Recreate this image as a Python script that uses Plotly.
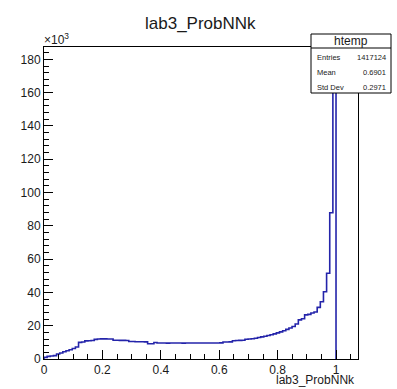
import plotly.graph_objects as go

# ---- data ----
x_min = 0.0
x_max = 1.075
n_bins = 100
# bin contents in units of 10^3 entries, bins 0..92 (remaining bins are empty)
counts_k = [
    1.0, 1.6, 1.8, 2.0, 3.0, 3.6, 4.4, 5.0, 5.6, 6.3,
    7.2, 10.0, 10.2, 10.9, 11.0, 11.1, 11.8, 12.0, 12.1, 12.1,
    12.0, 12.0, 11.3, 11.3, 11.2, 11.2, 11.1, 10.5, 10.5, 10.4,
    10.4, 10.4, 10.3, 9.2, 9.2, 9.9, 9.6, 9.6, 9.6, 9.55,
    9.6, 9.6, 9.6, 9.6, 9.55, 9.6, 9.6, 9.6, 9.6, 9.6,
    9.6, 9.6, 9.6, 9.6, 9.6, 9.6, 9.7, 10.2, 10.2, 10.3,
    11.0, 11.1, 11.2, 11.3, 11.9, 12.0, 12.2, 12.5, 12.9, 13.3,
    13.7, 14.1, 14.6, 15.1, 15.7, 16.3, 17.0, 17.8, 18.6, 19.5,
    21.0, 23.5, 24.2, 26.5, 26.8, 27.6, 28.2, 31.0, 34.4, 40.4,
    51.5, 87.9, 178.5,
]
y_ticks = [0, 20, 40, 60, 80, 100, 120, 140, 160, 180]
x_ticks = [0, 0.2, 0.4, 0.6, 0.8, 1.0]
x_tick_text = ["0", "0.2", "0.4", "0.6", "0.8", "1"]
title = "lab3_ProbNNk"
hist_name = "htemp"
stats_labels = ["Entries", "Mean", "Std Dev"]
stats_values = ["1417124", "0.6901", "0.2971"]

# ---- build step outline (trailing empty bins lie on the axis) ----
bw = (x_max - x_min) / n_bins
n_used = len(counts_k)
edges = [x_min + i * bw for i in range(n_used + 1)]
xs = [edges[0]] + edges
ys = [0.0] + counts_k + [0.0]

W, H = 397, 389
ML, MR, MT, MB = 44, 39, 47, 30
PW, PH = W - ML - MR, H - MT - MB


def px(x):
    return (x - ML) / PW


def py(y):
    return (H - MB - y) / PH


FONT = "Liberation Sans, Arial, Helvetica, sans-serif"
TXT = "#1a1a1a"

fig = go.Figure()
fig.add_trace(go.Scatter(
    x=xs, y=ys, mode="lines", line_shape="hv",
    line=dict(color="#2424aa", width=1.6), hoverinfo="skip", showlegend=False,
))

ymax = max(counts_k) * 1.05

fig.update_layout(
    width=W, height=H,
    margin=dict(l=ML, r=MR, t=MT, b=MB, pad=0),
    paper_bgcolor="white", plot_bgcolor="white",
    font=dict(family=FONT, color=TXT),
    showlegend=False,
    xaxis=dict(
        range=[x_min, x_max], showgrid=False, zeroline=False,
        showline=True, linecolor="black", linewidth=1, mirror=True,
        layer="above traces",
        ticks="inside", ticklen=9, tickcolor="black", tickwidth=1,
        tickvals=x_ticks, ticktext=x_tick_text,
        tickfont=dict(size=12, family=FONT, color=TXT),
        minor=dict(dtick=0.05, tick0=0, ticks="inside", ticklen=5,
                   tickcolor="black", tickwidth=1, showgrid=False),
    ),
    yaxis=dict(
        range=[0, ymax], showgrid=False, zeroline=False,
        showline=True, linecolor="black", linewidth=1, mirror=True,
        layer="above traces",
        ticks="inside", ticklen=9, tickcolor="black", tickwidth=1,
        tickvals=y_ticks, ticktext=[str(v) for v in y_ticks],
        tickfont=dict(size=12, family=FONT, color=TXT),
        minor=dict(dtick=4, tick0=0, ticks="inside", ticklen=5,
                   tickcolor="black", tickwidth=1, showgrid=False),
    ),
)

# title
fig.add_annotation(text=title, xref="paper", yref="paper",
                   x=px(200), y=py(23), xanchor="center", yanchor="middle",
                   showarrow=False, font=dict(size=17, family=FONT, color=TXT))
# x-axis title
fig.add_annotation(text=title, xref="paper", yref="paper",
                   x=px(357), y=py(380), xanchor="right", yanchor="middle",
                   showarrow=False, font=dict(size=12, family=FONT, color=TXT))
# exponent
fig.add_annotation(text="×10<sup>3</sup>", xref="paper", yref="paper",
                   x=px(42), y=py(39), xanchor="left", yanchor="middle",
                   showarrow=False, font=dict(size=12, family=FONT, color=TXT))

# stats box
bx0, bx1, by0, by1, bsep = 311, 391, 34, 93, 48
fig.add_shape(type="rect", xref="paper", yref="paper",
              x0=px(bx0), x1=px(bx1), y0=py(by1), y1=py(by0),
              fillcolor="white", line=dict(color="black", width=1), layer="above")
fig.add_shape(type="line", xref="paper", yref="paper",
              x0=px(bx0), x1=px(bx1), y0=py(bsep), y1=py(bsep),
              line=dict(color="black", width=1), layer="above")
fig.add_annotation(text=hist_name, xref="paper", yref="paper",
                   x=px((bx0 + bx1) / 2), y=py(41), xanchor="center", yanchor="middle",
                   showarrow=False, font=dict(size=12, family=FONT, color=TXT))
row_y = [57, 72, 87]
for lab, val, ry in zip(stats_labels, stats_values, row_y):
    fig.add_annotation(text=lab, xref="paper", yref="paper",
                       x=px(315), y=py(ry), xanchor="left", yanchor="middle",
                       showarrow=False, font=dict(size=7.5, family=FONT, color=TXT))
    fig.add_annotation(text=val, xref="paper", yref="paper",
                       x=px(388), y=py(ry), xanchor="right", yanchor="middle",
                       showarrow=False, font=dict(size=7.5, family=FONT, color=TXT))

fig.write_html("out.html")
